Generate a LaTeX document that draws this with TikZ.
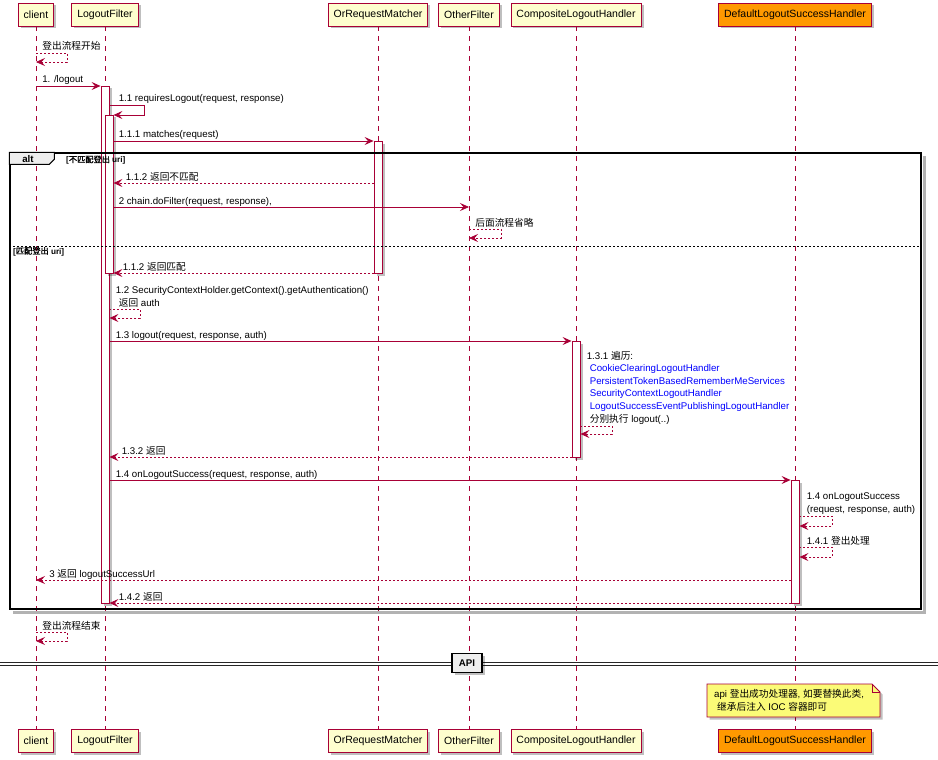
\documentclass[tikz,border=0pt]{standalone}
\usepackage{fontspec}
\setmainfont{Liberation Sans}
\newfontfamily\cjk{Noto Sans CJK SC}
\newfontfamily\cjkbold{Noto Sans CJK SC}[FakeBold=1.6]
\usepackage{tikz}
\usetikzlibrary{positioning,fit,arrows.meta,shadows}
\usepackage{xcolor}

\definecolor{umlred}{HTML}{A80036}
\definecolor{umlfill}{HTML}{FEFECE}
\definecolor{umlorange}{HTML}{FF9900}
\definecolor{notefill}{HTML}{FBFB77}
\definecolor{grpfill}{HTML}{EEEEEE}
\definecolor{handler}{HTML}{0000FF}

\newcommand\partfont{\fontsize{10.5}{12}\selectfont}
\newcommand\msgfont{\fontsize{9.7}{12.6}\selectfont}
\newcommand\grdfont{\fontsize{8.2}{10}\selectfont\bfseries}
\newcommand\zh[1]{{\cjk #1}}
\newcommand\zhb[1]{{\cjkbold\mdseries #1}}
\newcommand\hdl[1]{\textcolor{handler}{#1}}

\begin{document}
\begin{tikzpicture}[
            x=1pt, y=-1pt,
            umlshadow/.style={drop shadow={shadow xshift=2.5pt, shadow yshift=-2.5pt, fill=black, opacity=0.25}},
            party/.style={
                draw=umlred,
                fill=umlfill,
                line width=0.9pt,
                minimum height=23pt,
                inner xsep=5.5pt,
                inner ysep=0pt,
                font=\partfont,
                umlshadow
            },
            life/.style={draw=umlred, line width=0.6pt, dash pattern=on 5pt off 5pt},
            actbar/.style={draw=umlred, fill=white, line width=0.9pt, minimum width=8pt, inner sep=0pt, umlshadow},
            call/.style={draw=umlred, line width=0.7pt, -{Stealth[length=9pt, width=8pt, inset=3.5pt]}},
            reply/.style={call, dash pattern=on 2pt off 2pt},
            lbl/.style={anchor=base west, inner sep=0pt, font=\msgfont, yshift=3pt},
            lbls/.style={anchor=south west, inner sep=0pt, font=\msgfont, align=left, yshift=1.5pt},
            grpframe/.style={draw=black, line width=1.3pt, inner sep=0pt},
            tabshape/.style={draw=black, fill=grpfill, line width=1pt},
            guard/.style={anchor=base west, inner sep=0pt, font=\grdfont},
            sepline/.style={draw=black, line width=0.8pt, dash pattern=on 2pt off 2pt},
            divline/.style={draw=black!85, line width=0.9pt, double=white, double distance=2pt},
            divbox/.style={draw=black, fill=grpfill, line width=1.3pt, minimum width=30pt, minimum height=19pt, inner sep=0pt, font=\msgfont\bfseries, umlshadow},
            notebox/.style={draw=umlred, fill=notefill, line width=0.8pt, umlshadow},
            notetext/.style={anchor=west, inner xsep=7pt, inner ysep=0pt, align=left, font=\msgfont}
        ]

        \useasboundingbox (0,0) rectangle (938,760);

        % participants
        \node[party] (client) at (36,14.5) {client};
        \node[party] (filter) at (105,14.5) {LogoutFilter};
        \node[party] (matcher) at (378,14.5) {OrRequestMatcher};
        \node[party] (other) at (469,14.5) {OtherFilter};
        \node[party] (composite) at (576,14.5) {CompositeLogoutHandler};
        \node[party, fill=umlorange] (success) at (795,14.5) {DefaultLogoutSuccessHandler};

        \node[party] (client-end) at (client |- 0,741) {client};
        \node[party] (filter-end) at (filter |- 0,741) {LogoutFilter};
        \node[party] (matcher-end) at (matcher |- 0,741) {OrRequestMatcher};
        \node[party] (other-end) at (other |- 0,741) {OtherFilter};
        \node[party] (composite-end) at (composite |- 0,741) {CompositeLogoutHandler};
        \node[party, fill=umlorange] (success-end) at (success |- 0,741) {DefaultLogoutSuccessHandler};

        \foreach \p in {client, filter, matcher, other, composite, success}
            \draw[life] (\p) -- (\p-end);

        % activations
        \node[actbar, fit={(filter |- 0,86) (filter |- 0,603)}] (act1) {};
        \node[actbar, xshift=4pt, fit={(filter |- 0,115) (filter |- 0,273)}] (act2) {};
        \node[actbar, fit={(matcher |- 0,141) (matcher |- 0,273)}] (act3) {};
        \node[actbar, fit={(composite |- 0,341) (composite |- 0,457)}] (act4) {};
        \node[actbar, fit={(success |- 0,480) (success |- 0,603)}] (act5) {};

        % alt frame
        \node[grpframe, fit={(10,153) (921,609)}] (altbox) {};
        \draw[black!30, line width=2.5pt] ([shift={(2.6pt,-4pt)}]altbox.north east) -- ([shift={(2.6pt,-2.6pt)}]altbox.south east) -- ([shift={(4pt,-2.6pt)}]altbox.south west);
        \draw[tabshape] (altbox.north west) -- ++(45,0) -- ++(0,7) -- ++(-5,5) -- ++(-40,0) -- cycle;
        \node[font=\msgfont\bfseries, inner sep=0pt] (alttag) at (28,159) {alt};
        \node[guard] (guard1) at (66,162.5) {[\zhb{不匹配登出} uri]};
        \draw[sepline] (altbox.west |- 0,246) -- (altbox.east |- 0,246);
        \node[guard] (guard2) at (13,254) {[\zhb{匹配登出} uri]};

        % messages
        \draw[reply] (client |- 0,53) -- node[lbl, at start, xshift=6pt]{\zh{登出流程开始}} ++(31,0) -- ++(0,9) -- (client |- 0,62);
        \draw[call] (client |- 0,86) -- node[lbl, at start, xshift=6pt]{1. /logout} (act1.west |- 0,86);
        \draw[call] (act1.east |- 0,105) -- node[lbl, at start, xshift=9pt]{1.1 requiresLogout(request, response)} ++(35,0) -- ++(0,10) -- (act2.east |- 0,115);
        \draw[call] (act2.east |- 0,141) -- node[lbl, at start, xshift=5pt]{1.1.1 matches(request)} (act3.west |- 0,141);
        \draw[reply] (act3.west |- 0,183) -- node[lbl, at end, xshift=12pt]{1.1.2 \zh{返回不匹配}} (act2.east |- 0,183);
        \draw[call] (act2.east |- 0,207) -- node[lbl, at start, xshift=5pt]{2 chain.doFilter(request, response),} (other |- 0,207);
        \draw[reply] (other |- 0,229) -- node[lbl, at start, xshift=6pt]{\zh{后面流程省略}} ++(32,0) -- ++(0,9) -- (other |- 0,238);
        \draw[reply] (act3.west |- 0,273) -- node[lbl, at end, xshift=9pt]{1.1.2 \zh{返回匹配}} (act2.east |- 0,273);
        \draw[reply] (act1.east |- 0,309) -- node[lbls, at start, xshift=6pt]{1.2 SecurityContextHolder.getContext().getAuthentication()\\\hspace{3pt}\zh{返回} auth} ++(31,0) -- ++(0,9) -- (act1.east |- 0,318);
        \draw[call] (act1.east |- 0,341) -- node[lbl, at start, xshift=6pt]{1.3 logout(request, response, auth)} (act4.west |- 0,341);
        \draw[reply] (act4.east |- 0,426) -- node[lbls, at start, xshift=6pt]{1.3.1 \zh{遍历}:\\\hspace{3pt}\hdl{CookieClearingLogoutHandler}\\\hspace{3pt}\hdl{PersistentTokenBasedRememberMeServices}\\\hspace{3pt}\hdl{SecurityContextLogoutHandler}\\\hspace{3pt}\hdl{LogoutSuccessEventPublishingLogoutHandler}\\\hspace{3pt}\zh{分别执行} logout(..)} ++(32,0) -- ++(0,8) -- (act4.east |- 0,434);
        \draw[reply] (act4.west |- 0,457) -- node[lbl, at end, xshift=12pt]{1.3.2 \zh{返回}} (act1.east |- 0,457);
        \draw[call] (act1.east |- 0,480) -- node[lbl, at start, xshift=6pt]{1.4 onLogoutSuccess(request, response, auth)} (act5.west |- 0,480);
        \draw[reply] (act5.east |- 0,516) -- node[lbls, at start, xshift=7pt]{1.4 onLogoutSuccess\\(request, response, auth)} ++(33,0) -- ++(0,10) -- (act5.east |- 0,526);
        \draw[reply] (act5.east |- 0,547) -- node[lbl, at start, xshift=7pt]{1.4.1 \zh{登出处理}} ++(33,0) -- ++(0,10) -- (act5.east |- 0,557);
        \draw[reply] (act5.west |- 0,580) -- node[lbl, at end, xshift=13pt]{3 \zh{返回} logoutSuccessUrl} (client |- 0,580);
        \draw[reply] (act5.west |- 0,603) -- node[lbl, at end, xshift=9pt]{1.4.2 \zh{返回}} (act1.east |- 0,603);
        \draw[reply] (client |- 0,632) -- node[lbl, at start, xshift=6pt]{\zh{登出流程结束}} ++(31,0) -- ++(0,9) -- (client |- 0,641);

        % divider
        \coordinate (divL) at (0,664);
        \coordinate (divR) at (938,664);
        \draw[divline] (divL) -- (divR);
        \node[divbox] (api) at (467,663) {API};

        % note
        \draw[notebox] (707,684) -- (872,684) -- (880,692) -- (880,717) -- (707,717) -- cycle;
        \draw[draw=umlred, line width=0.8pt] (872,684) -- (872,692) -- (880,692);
        \node[notetext] (note) at (707,700.5) {api \zh{登出成功处理器}, \zh{如要替换此类},\\\hspace{3pt}\zh{继承后注入} IOC \zh{容器即可}};

        \end{tikzpicture}
\end{document}
